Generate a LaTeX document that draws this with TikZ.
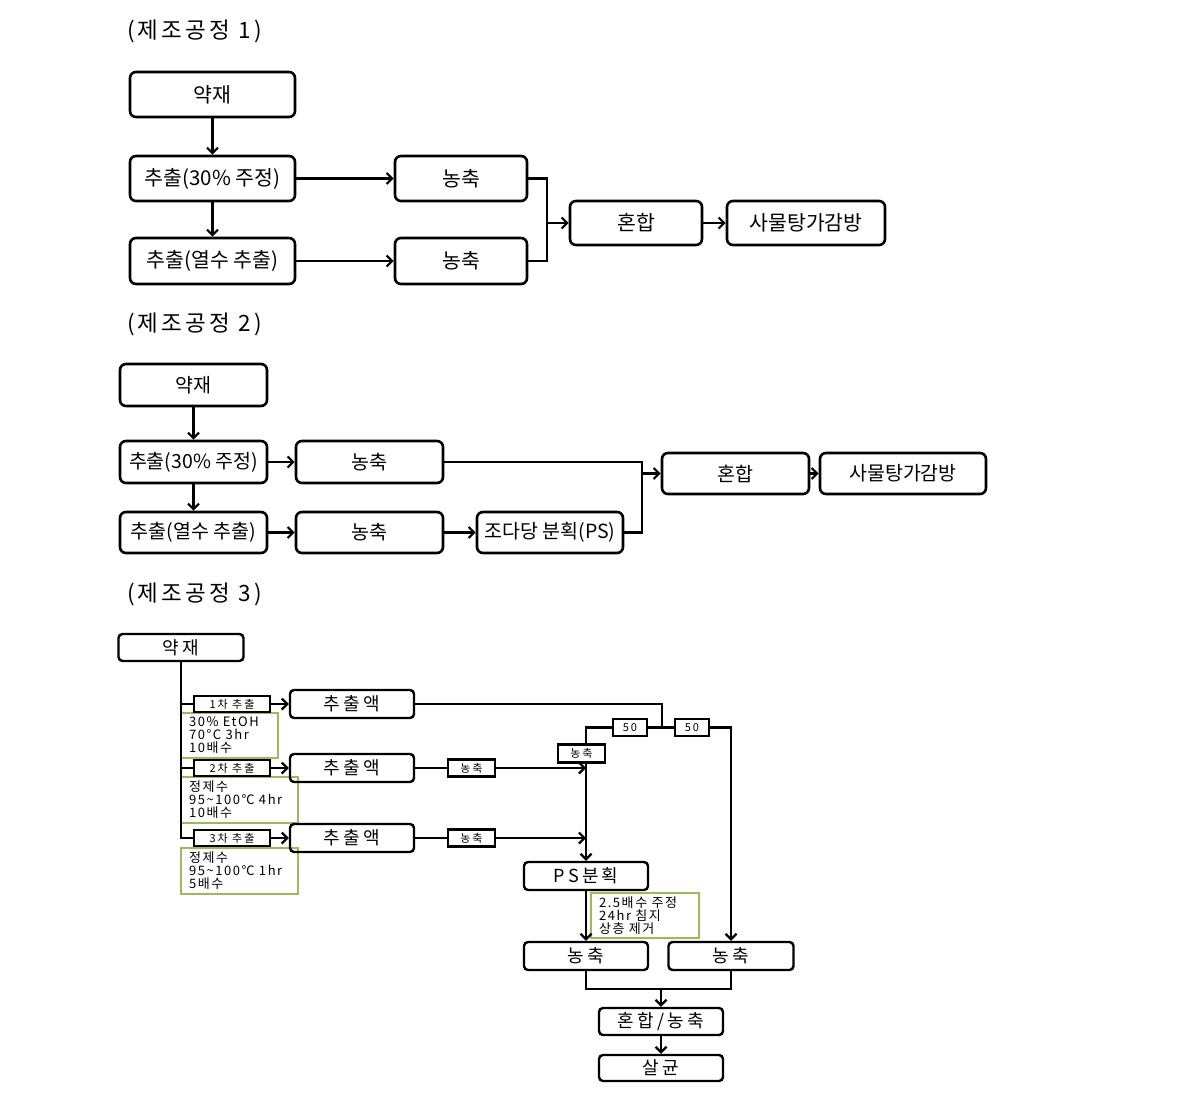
\documentclass[tikz,border=0pt]{standalone}
\usepackage{fontspec}
\setmainfont{Noto Sans CJK KR}
\newfontfamily\krw[LetterSpace=18]{Noto Sans CJK KR}
\newfontfamily\krs[LetterSpace=18]{Noto Sans CJK KR}
\newfontfamily\krg[LetterSpace=12]{Noto Sans CJK KR}
\newfontfamily\krt[LetterSpace=14]{Noto Sans CJK KR}
\usetikzlibrary{arrows.meta}
\definecolor{gbox}{RGB}{155,187,89}
\begin{document}
\begin{tikzpicture}[x=1pt,y=-1pt,
  ln/.style={line width=2.2pt},
  arr/.style={ln,-{Straight Barb[length=5.5pt,width=11pt,line width=2.2pt]}},
  ttl/.style={anchor=west,inner sep=0pt,font=\krt\fontsize{22.5}{26}\selectfont},
  boxa/.style={draw,line width=2.6pt,rounded corners=6pt,inner sep=0pt,font=\fontsize{20.5}{24}\selectfont},
  boxb/.style={draw,line width=2.6pt,rounded corners=6pt,inner sep=0pt,font=\fontsize{19.5}{23}\selectfont},
  boxc/.style={draw,line width=2.4pt,rounded corners=4pt,inner sep=0pt,font=\krw\fontsize{18}{20}\selectfont},
  lab/.style={draw,line width=2.4pt,inner sep=0pt,fill=white,font=\krs\fontsize{11}{13}\selectfont},
  gb/.style={draw=gbox,line width=2pt,anchor=north west,inner xsep=8pt,inner ysep=1pt,align=left,font=\krg\fontsize{13}{13}\selectfont}
]
\useasboundingbox[fill=white] (0,0) rectangle (1194,1102);

% ---------- Section 1 ----------
\node[ttl] (t1) at (127,31) {(제조공정 1)};
\node[boxa,minimum width=165pt,minimum height=45pt] (s1a) at (212.5,94.5) {약재};
\node[boxa,minimum width=165pt,minimum height=45pt] (s1b) at (212.5,178.5) {추출(30\% 주정)};
\node[boxa,minimum width=165pt,minimum height=46pt] (s1c) at (212.5,261) {추출(열수 추출)};
\node[boxa,minimum width=132pt,minimum height=45pt] (s1d) at (461,178.5) {농축};
\node[boxa,minimum width=132pt,minimum height=46pt] (s1e) at (461,261) {농축};
\node[boxa,minimum width=132pt,minimum height=44pt] (s1f) at (636,223) {혼합};
\node[boxa,minimum width=158pt,minimum height=44pt] (s1g) at (806,223) {사물탕가감방};
\coordinate (j1) at (547,223);
\draw[arr] (s1a) -- (s1b);
\draw[arr] (s1b) -- (s1c);
\draw[arr] (s1b) -- (s1d);
\draw[arr] (s1c) -- (s1e);
\draw[ln] (s1d.east) -| (j1) |- (s1e.east);
\draw[arr] (j1) -- (s1f);
\draw[arr] (s1f) -- (s1g);

% ---------- Section 2 ----------
\node[ttl] (t2) at (127,324) {(제조공정 2)};
\node[boxb,minimum width=147pt,minimum height=42pt] (s2a) at (193.5,385) {약재};
\node[boxb,minimum width=147pt,minimum height=42pt] (s2b) at (193.5,462) {추출(30\% 주정)};
\node[boxb,minimum width=147pt,minimum height=41pt] (s2c) at (193.5,532.5) {추출(열수 추출)};
\node[boxb,minimum width=147pt,minimum height=42pt] (s2d) at (369.5,462) {농축};
\node[boxb,minimum width=147pt,minimum height=41pt] (s2e) at (369.5,532.5) {농축};
\node[boxb,minimum width=146pt,minimum height=41pt] (s2f) at (550,532.5) {조다당 분획(PS)};
\node[boxb,minimum width=147pt,minimum height=41pt] (s2g) at (735.5,473.5) {혼합};
\node[boxb,minimum width=166pt,minimum height=41pt] (s2h) at (903,473.5) {사물탕가감방};
\coordinate (j2) at (642,473.5);
\draw[arr] (s2a) -- (s2b);
\draw[arr] (s2b) -- (s2c);
\draw[arr] (s2b) -- (s2d);
\draw[arr] (s2c) -- (s2e);
\draw[arr] (s2e) -- (s2f);
\draw[ln] (s2d.east) -| (j2) |- (s2f.east);
\draw[arr] (j2) -- (s2g);
\draw[arr] (s2g) -- (s2h);

% ---------- Section 3 ----------
\node[ttl] (t3) at (127,594) {(제조공정 3)};
\node[gb,minimum width=97pt,minimum height=45pt,text width=81pt] (g1) at (180,712) {30\% EtOH\\70°C 3hr\\10배수};
\node[gb,minimum width=117pt,minimum height=46pt,text width=101pt] (g2) at (180,776) {정제수\\95\textasciitilde100℃ 4hr\\10배수};
\node[gb,minimum width=117pt,minimum height=46pt,text width=101pt] (g3) at (180,847) {정제수\\95\textasciitilde100℃ 1hr\\5배수};
\node[gb,minimum width=108pt,minimum height=45pt,text width=92pt] (g4) at (590,892) {2.5배수 주정\\24hr 침지\\상층 제거};

\node[boxc,minimum width=125pt,minimum height=27pt] (s3a) at (181,647.5) {약재};
\node[lab,minimum width=76pt,minimum height=16pt] (l1) at (232,704) {1차 추출};
\node[lab,minimum width=76pt,minimum height=16pt] (l2) at (232,768) {2차 추출};
\node[lab,minimum width=76pt,minimum height=16pt] (l3) at (232,838) {3차 추출};
\node[boxc,minimum width=124pt,minimum height=28pt] (e1) at (352,704) {추출액};
\node[boxc,minimum width=124pt,minimum height=28pt] (e2) at (352,768) {추출액};
\node[boxc,minimum width=124pt,minimum height=28pt] (e3) at (352,838) {추출액};
\node[lab,minimum width=47pt,minimum height=17pt] (k2) at (471.5,768) {농축};
\node[lab,minimum width=47pt,minimum height=17pt] (k3) at (471.5,838) {농축};
\node[lab,minimum width=47pt,minimum height=18pt] (k1) at (581.5,753.5) {농축};
\node[lab,minimum width=34pt,minimum height=17pt] (f1) at (630,727.5) {50};
\node[lab,minimum width=34pt,minimum height=17pt] (f2) at (692,727.5) {50};
\node[boxc,minimum width=124pt,minimum height=28pt] (ps) at (586,876) {PS분획};
\node[boxc,minimum width=124pt,minimum height=28pt] (nL) at (586,956) {농축};
\node[boxc,minimum width=125pt,minimum height=28pt] (nR) at (731,956) {농축};
\node[boxc,minimum width=124pt,minimum height=27pt] (mx) at (661,1021.5) {혼합/농축};
\node[boxc,minimum width=124pt,minimum height=26pt] (st) at (661,1068) {살균};
\coordinate (j3) at (662,727.5);
\coordinate (j4) at (661,989);

\draw[ln] (s3a.south) |- (l3.west);
\draw[ln] (s3a.south) |- (l1.west);
\draw[ln] (s3a.south) |- (l2.west);
\draw[arr] (l1) -- (e1);
\draw[arr] (l2) -- (e2);
\draw[arr] (l3) -- (e3);
\draw[ln] (e1.east) -| (j3);
\draw[ln] (j3) -- (f1.east);
\draw[ln] (j3) -- (f2.west);
\draw[ln] (f1.west) -| (k1.north -| ps.north);
\draw[arr] (k1.south -| ps.north) -- (ps.north);
\draw[ln] (e2) -- (k2);
\draw[ln] (e3) -- (k3);
\draw[arr] (k2.east) -- (k2.east -| ps.north);
\draw[arr] (k3.east) -- (k3.east -| ps.north);
\draw[arr] (f2.east) -| (nR.north);
\draw[arr] (ps.south) -- (nL.north);
\draw[ln] (nL.south) |- (nR.south |- j4) -- (nR.south);
\draw[arr] (j4) -- (mx.north);
\draw[arr] (mx) -- (st);
\end{tikzpicture}
\end{document}
